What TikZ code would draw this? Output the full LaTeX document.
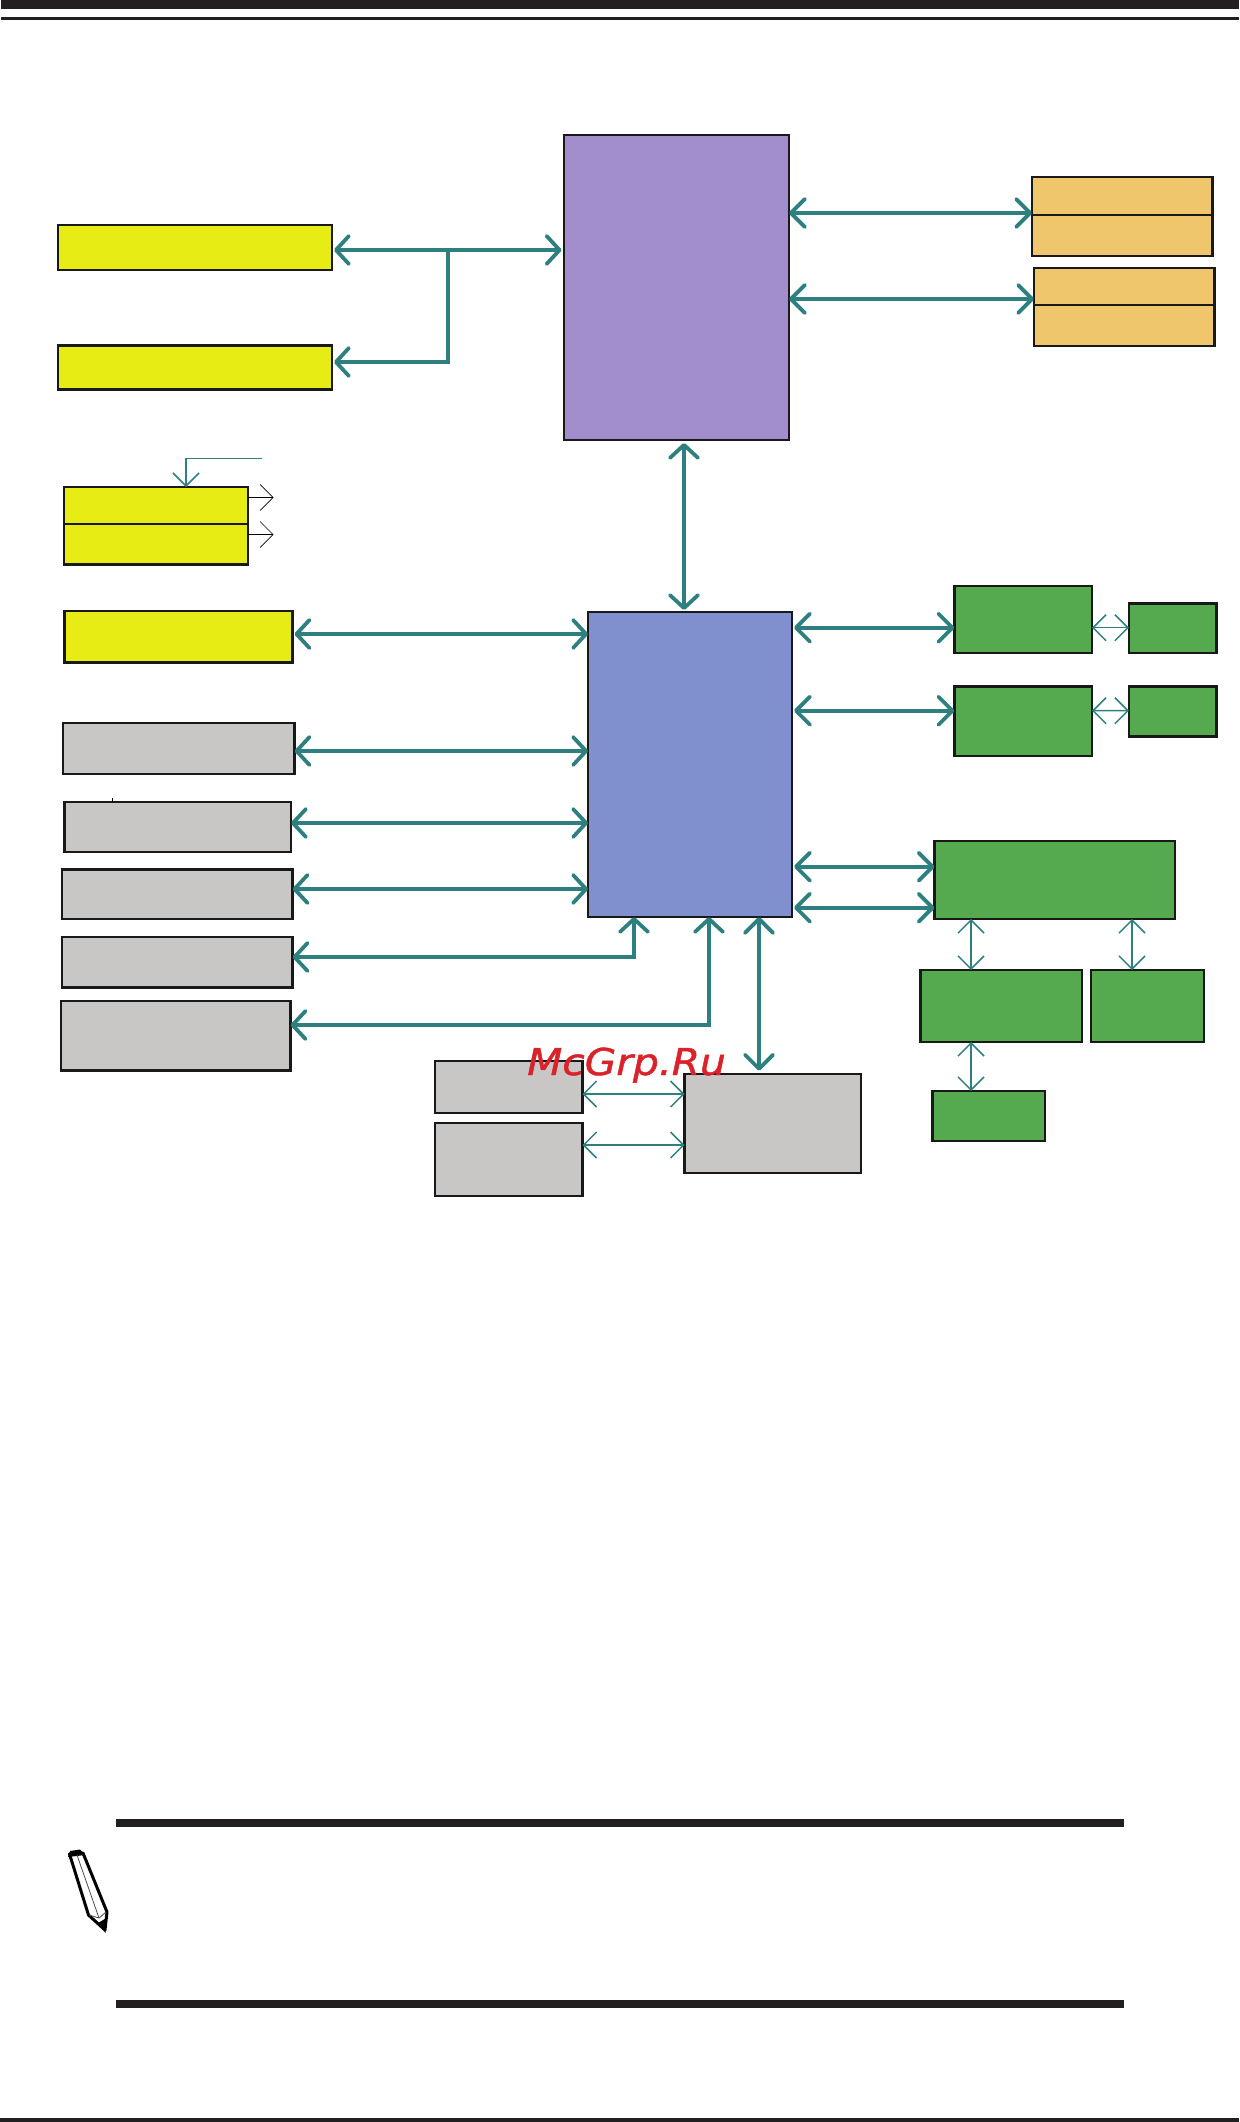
\documentclass[tikz,border=0pt]{standalone}
\usepackage{fontspec}
\usetikzlibrary{arrows.meta}
\newfontfamily\markfont[ItalicFeatures={FakeBold=1.2}]{DejaVu Sans}
\definecolor{YellowClr}{rgb}{0.902,0.925,0.078}
\definecolor{PurpleClr}{rgb}{0.635,0.557,0.800}
\definecolor{BlueClr}{rgb}{0.502,0.565,0.812}
\definecolor{GreenClr}{rgb}{0.333,0.667,0.314}
\definecolor{OrangeClr}{rgb}{0.941,0.776,0.424}
\definecolor{GreyClr}{rgb}{0.784,0.780,0.773}
\definecolor{WireClr}{rgb}{0.180,0.502,0.502}
\definecolor{BarClr}{rgb}{0.137,0.122,0.125}
\definecolor{MarkClr}{rgb}{0.855,0.133,0.165}

\begin{document}
\begin{tikzpicture}[x=1pt,y=-1pt,
  block/.style={draw=black!90,line width=2.4pt,inner sep=0pt,outer sep=0pt},
  bus/.style={WireClr,line width=3.8pt,{Straight Barb[length=14pt,width=28pt,round]}-{Straight Barb[length=14pt,width=28pt,round]}},
  busgap/.style={WireClr,line width=3.8pt,{Straight Barb[length=13pt,width=28pt,round] Round Cap[sep=9pt]}-{Round Cap[sep=9pt] Straight Barb[length=13pt,width=28pt,round]}},
  busend/.style={WireClr,line width=3.8pt,{Straight Barb[length=13pt,width=28pt,round] Round Cap[sep=9pt]}-},
  wire/.style={WireClr,line width=1.5pt,{Straight Barb[length=13pt,width=26pt]}-{Straight Barb[length=13pt,width=26pt]}},
  feed/.style={WireClr,line width=1.5pt,-{Straight Barb[length=13pt,width=26pt]}},
  outwire/.style={black,line width=.7pt,-{Straight Barb[length=13pt,width=26pt]}}]
\useasboundingbox (0,0) rectangle (1239,2122);

\fill[BarClr] (1,0) rectangle (1239,9.5);
\fill[BarClr] (1,17) rectangle (1239,20);
\fill[BarClr] (116,1819) rectangle (1123.5,1827);
\fill[BarClr] (116,2000) rectangle (1123.5,2008);
\fill[BarClr] (0,2118) rectangle (1239,2122);

\node[block,fill=PurpleClr,minimum width=225pt,minimum height=305pt] (mch) at (676.5,287.5) {};
\node[block,fill=BlueClr,minimum width=204pt,minimum height=305pt] (ich) at (690,764.5) {};

\node[block,fill=YellowClr,minimum width=274pt,minimum height=45pt] (ylwA) at (195,247.5) {};
\node[block,fill=YellowClr,minimum width=274pt,minimum height=44pt] (ylwB) at (195,367.5) {};
\node[block,fill=YellowClr,minimum width=184.3pt,minimum height=37pt] (ylwUp) at (155.9,505.5) {};
\node[block,fill=YellowClr,minimum width=184.3pt,minimum height=40.6pt] (ylwLo) at (155.9,544.3) {};
\node[block,fill=YellowClr,minimum width=228.1pt,minimum height=51.5pt] (ylwC) at (178.5,636.75) {};

\node[block,fill=OrangeClr,minimum width=180.5pt,minimum height=38pt] (orgAup) at (1122.25,196) {};
\node[block,fill=OrangeClr,minimum width=180.5pt,minimum height=41pt] (orgAlo) at (1122.25,235.5) {};
\node[block,fill=OrangeClr,minimum width=180.5pt,minimum height=37pt] (orgBup) at (1124.25,286.5) {};
\node[block,fill=OrangeClr,minimum width=180.5pt,minimum height=41pt] (orgBlo) at (1124.25,325.5) {};

\node[block,fill=GreyClr,minimum width=231.6pt,minimum height=51pt] (gryA) at (178.8,748.5) {};
\node[block,fill=GreyClr,minimum width=226.5pt,minimum height=50pt] (gryB) at (177.75,827) {};
\node[block,fill=GreyClr,minimum width=230.9pt,minimum height=49.5pt] (gryC) at (177.15,894.25) {};
\node[block,fill=GreyClr,minimum width=230.9pt,minimum height=50.4pt] (gryD) at (177.15,962.2) {};
\node[block,fill=GreyClr,minimum width=229.6pt,minimum height=69.4pt] (gryE) at (175.8,1035.7) {};
\node[block,fill=GreyClr,minimum width=176.1pt,minimum height=99.3pt] (gryHub) at (772.65,1123.35) {};
\node[block,fill=GreyClr,minimum width=147.5pt,minimum height=52pt] (gryUp) at (508.75,1087) {};
\node[block,fill=GreyClr,minimum width=147.5pt,minimum height=73pt] (gryLo) at (508.75,1159.5) {};

\node[block,fill=GreenClr,minimum width=137.6pt,minimum height=67pt] (grnA) at (1023.2,619.5) {};
\node[block,fill=GreenClr,minimum width=87.5pt,minimum height=49.5pt] (grnAs) at (1172.75,628.25) {};
\node[block,fill=GreenClr,minimum width=137.6pt,minimum height=69.4pt] (grnB) at (1023.2,721.3) {};
\node[block,fill=GreenClr,minimum width=87.5pt,minimum height=50pt] (grnBs) at (1172.75,711.6) {};
\node[block,fill=GreenClr,minimum width=240.2pt,minimum height=78pt] (grnC) at (1054.6,880) {};
\node[block,fill=GreenClr,minimum width=161.4pt,minimum height=72pt] (grnD) at (1001.3,1006) {};
\node[block,fill=GreenClr,minimum width=113pt,minimum height=72pt] (grnE) at (1147.5,1006) {};
\node[block,fill=GreenClr,minimum width=112.6pt,minimum height=50pt] (grnF) at (988.7,1116) {};

\coordinate (busJ) at (448,250);
\coordinate (feedIn) at (262,458.7);
\coordinate (outA) at (273.6,497.4);
\coordinate (outB) at (273.6,534.6);

\draw[busgap] ([xshift=2pt,yshift=-2.5pt]ylwA.east) -- ([xshift=-2.5pt,yshift=37.5pt]mch.west);
\draw[busend] ([xshift=2pt,yshift=5.5pt]ylwB.east) -| (busJ);

\draw[bus] ([yshift=74.5pt]mch.east) -- ([yshift=2pt]orgAup.south west);
\draw[bus] ([yshift=-11.5pt]mch.east) -- ([yshift=6pt]orgBup.south west);
\draw[busgap,shorten <=3pt,shorten >=2pt] ([xshift=7.5pt]mch.south) -- ([xshift=-6pt]ich.north);

\draw[feed] (feedIn) -| ([xshift=30.1pt]ylwUp.north);
\draw[outwire] ([yshift=8.1pt]ylwUp.east) -- (outA);
\draw[outwire] ([yshift=9.7pt]ylwLo.east) -- (outB);

\draw[busgap] ([xshift=2pt,yshift=2.75pt]ylwC.east) -- ([yshift=130.5pt]ich.west);
\draw[busgap] ([yshift=-2.5pt]gryA.east) -- ([yshift=13.5pt]ich.west);
\draw[busgap] ([yshift=4pt]gryB.east) -- ([yshift=-58.5pt]ich.west);
\draw[busgap] ([yshift=5.25pt]gryC.east) -- ([yshift=-124.5pt]ich.west);
\draw[busgap] ([yshift=5.2pt]gryD.east) -| ([xshift=-56pt]ich.south);
\draw[busgap] ([yshift=10.7pt]gryE.east) -| ([xshift=19pt]ich.south);
\draw[black,line width=.8pt] ([xshift=-65.75pt]gryB.north) -- ++(0,-4);

\draw[bus] ([xshift=69pt]ich.south) -- ([xshift=-13.65pt,yshift=3pt]gryHub.north);
\draw[bus] ([xshift=2pt,yshift=136.8pt]ich.east) -- ([yshift=-8.2pt]grnA.west);
\draw[bus] ([xshift=2pt,yshift=53.8pt]ich.east) -- ([yshift=10.6pt]grnB.west);
\draw[bus] ([xshift=2pt,yshift=-102.2pt]ich.east) -- ([yshift=13.3pt]grnC.west);
\draw[bus] ([xshift=2pt,yshift=-143.2pt]ich.east) -- ([yshift=-27.7pt]grnC.west);

\draw[wire] ([yshift=-8.2pt]grnA.east) -- ([yshift=.55pt]grnAs.west);
\draw[wire] ([yshift=10.6pt]grnB.east) -- ([yshift=.9pt]grnBs.west);
\draw[wire] ([xshift=-83.6pt]grnC.south) -- ([xshift=-30.3pt]grnD.north);
\draw[wire] ([xshift=77.4pt]grnC.south) -- ([xshift=-15.5pt]grnE.north);
\draw[wire] ([xshift=-30.3pt]grnD.south) -- ([xshift=-17.7pt]grnF.north);
\draw[wire] ([yshift=-7pt]gryUp.east) -- ([yshift=29.35pt]gryHub.west);
\draw[wire] ([yshift=14.5pt]gryLo.east) -- ([yshift=-21.65pt]gryHub.west);

\filldraw[fill=white,draw=black,line width=3pt,line join=round] (69.5,1854) -- (83,1853) -- (107,1912) -- (105,1930) -- (88.5,1915) -- cycle;
\fill[black] (68,1857) -- (70,1851) -- (80,1849.5) -- (85,1855) -- cycle;
\fill[black] (98,1923) -- (106.5,1918) -- (105.5,1933) -- cycle;
\draw[black!70,line width=.8pt] (77,1855) -- (99,1918);
\draw[black!70,line width=.8pt] (89,1915) -- (99,1918) -- (106,1912);

\node[text=MarkClr,font=\markfont\itshape\fontsize{37}{40}\selectfont,inner sep=0pt,anchor=base west,xscale=1.1] (mcgrp) at (527,1075) {McGrp.Ru};

\end{tikzpicture}
\end{document}
